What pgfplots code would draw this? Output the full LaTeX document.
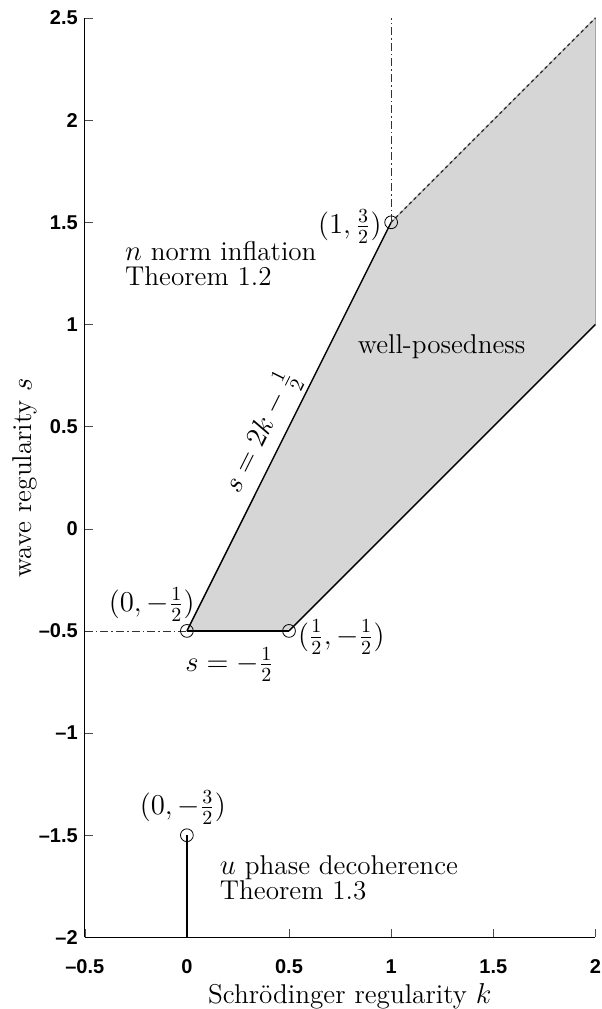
\documentclass[border=0pt]{standalone}
\usepackage{fontspec}
\newfontfamily\hv{Liberation Sans}
\usepackage{pgfplots}
\pgfplotsset{compat=1.18}
\definecolor{wpGray}{HTML}{D6D6D6}

\begin{document}
\begin{tikzpicture}
\begin{axis}[
    scale only axis, width=255.5pt, height=460pt,
    xmin=-0.5, xmax=2, ymin=-2, ymax=2.5,
    axis lines=left, axis line style={-, black},
    tick align=inside, major tick length=4pt,
    tick style={black!70},
    xtick={-0.5,0,0.5,1,1.5,2},
    xticklabels={–0.5,0,0.5,1,1.5,2},
    ytick={-2,-1.5,-1,-0.5,0,0.5,1,1.5,2,2.5},
    yticklabels={–2,–1.5,–1,–0.5,0,0.5,1,1.5,2,2.5},
    ticklabel style={font=\hv\bfseries\fontsize{10}{12}\selectfont},
    xticklabel style={inner sep=0pt, yshift=-10.8pt},
    xlabel={Schrödinger regularity $k$},
    ylabel={wave regularity $s$},
    label style={font=\fontsize{13.6}{15}\selectfont, inner sep=0pt},
    xlabel style={at={(axis description cs:0.519,-0.064)}, anchor=center},
    ylabel style={at={(axis description cs:-0.117,0.5)}, anchor=center},
    clip=false,
]
% well-posedness region
\addplot[fill=wpGray, draw=black!35] coordinates {
    (0,-0.5) (0.5,-0.5) (2,1) (2,2.5) (1,1.5)
} -- cycle;
% boundaries
\addplot[black, line width=0.7pt] coordinates {(0,-0.5) (1,1.5)};
\addplot[black, line width=0.7pt] coordinates {(0,-0.5) (0.5,-0.5)};
\addplot[black, line width=0.7pt] coordinates {(0.5,-0.5) (2,1)};
\addplot[black!80, line width=0.7pt, dash pattern=on 1.6pt off 1.6pt] coordinates {(1,1.5) (2,2.5)};
\addplot[black!80, thin, dash pattern=on 4pt off 1.5pt on 0.8pt off 1.5pt] coordinates {(1,1.5) (1,2.5)};
\addplot[black!80, thin, dash pattern=on 4pt off 1.5pt on 0.8pt off 1.5pt] coordinates {(-0.5,-0.5) (0,-0.5)};
% stem
\addplot[black, line width=1pt] coordinates {(0,-2) (0,-1.5)};
% endpoints
\addplot[only marks, mark=o, mark size=3.2pt, black, thin] coordinates {
    (0,-0.5) (0.5,-0.5) (1,1.5) (0,-1.5)
};
% labels
\begin{scope}[every node/.style={font=\fontsize{13.6}{12.5}\selectfont}]
\node at (axis cs:-0.172,-0.372) {$(0,-\frac{1}{2})$};
\node[anchor=west, inner sep=0pt] at (axis cs:0.542,-0.53) {$(\frac{1}{2},-\frac{1}{2})$};
\node[anchor=east, inner sep=0pt] at (axis cs:0.955,1.478) {$(1,\frac{3}{2})$};
\node at (axis cs:-0.02,-1.365) {$(0,-\frac{3}{2})$};
\node at (axis cs:0.209,-0.665) {$s=-\frac{1}{2}$};
\node at (axis cs:1.247,0.89) {well-posedness};
\node[rotate=63.43] at (axis cs:0.366,0.47) {$s=2k-\frac{1}{2}$};
\node[anchor=west, align=left, inner sep=0pt] at (axis cs:-0.304,1.296) {$n$ norm inflation\\Theorem 1.2};
\node[anchor=west, align=left, inner sep=0pt] at (axis cs:0.16,-1.707) {$u$ phase decoherence\\Theorem 1.3};
\end{scope}
% page frame
\path (rel axis cs:-0.166,1.0196) (rel axis cs:1.0117,-0.077);
\end{axis}
\end{tikzpicture}
\end{document}
